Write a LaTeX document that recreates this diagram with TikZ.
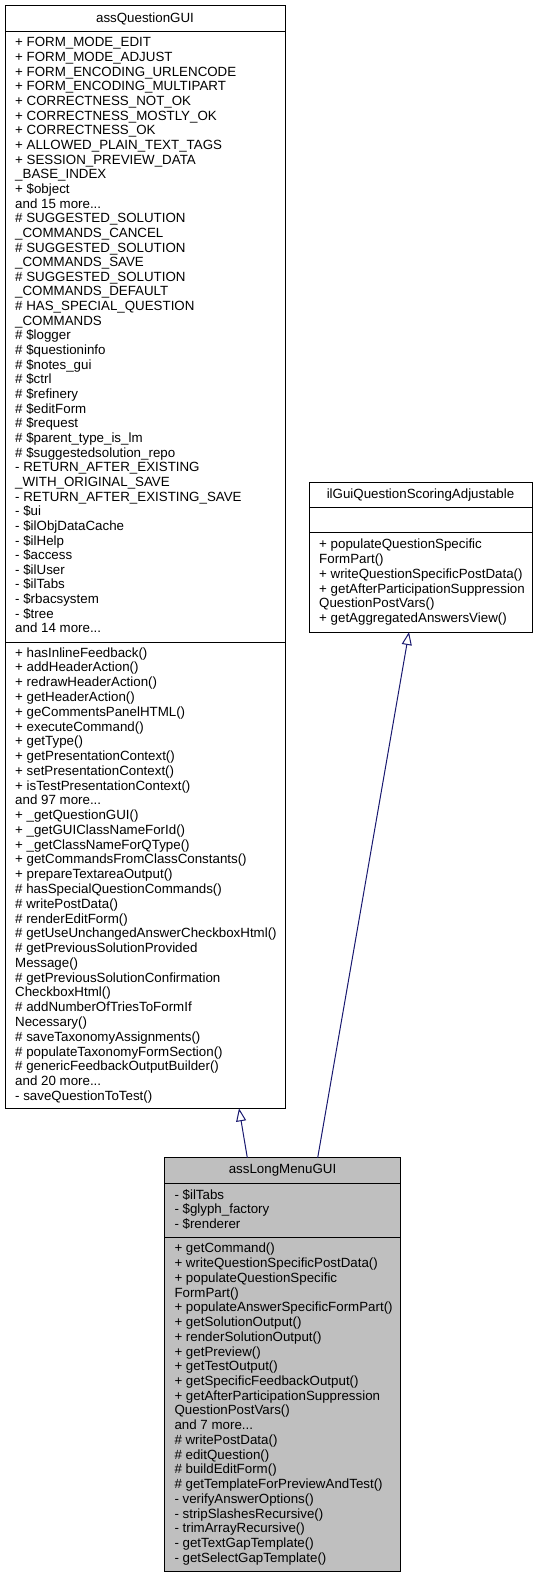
\documentclass[tikz,border=0pt]{standalone}
\usepackage{fontspec}
\usetikzlibrary{arrows.meta,calc}
\newfontfamily\classfontfam{Liberation Sans}
\newcommand\memberfont{\classfontfam\fontsize{13.33pt}{14.73pt}\selectfont}
\newcommand\memberfonta{\classfontfam\fontsize{13.33pt}{14.65pt}\selectfont}
\newcommand\memberfontm{\classfontfam\fontsize{13.33pt}{14.77pt}\selectfont}
\newcommand\fl{\rule{0pt}{11pt}}
\definecolor{edgeblue}{RGB}{25,25,112}
\definecolor{grey75}{RGB}{191,191,191}
\tikzset{
  classbox/.style={draw=black, line width=1pt, fill=white, inner sep=0pt, outer sep=0pt, anchor=north west},
  curbox/.style={classbox, fill=grey75},
  sepline/.style={draw=black, line width=1pt},
  member/.style={anchor=north west, inner sep=0pt, align=left, font=\memberfont, text=black},
  classtitle/.style={anchor=base, inner sep=0pt, font=\memberfont, text=black},
  inh/.style={draw=edgeblue, line width=1pt, -{Triangle[length=13pt,width=10pt,fill=white]}}
}
\begin{document}
\begin{tikzpicture}[x=1pt,y=-1pt]
\useasboundingbox (0,0) rectangle (539,1577);
% ---- assQuestionGUI
\node[classbox, minimum width=280pt, minimum height=1103pt] (q) at (5,5.3) {};
\draw[sepline] (5,31) -- (285,31);
\draw[sepline] (5,642) -- (285,642);
\node[classtitle] (qt) at (145,22) {assQuestionGUI};
\node[member, font=\memberfonta] (qa) at (15,35.7) {\fl+ FORM\_MODE\_EDIT\\
+ FORM\_MODE\_ADJUST\\
+ FORM\_ENCODING\_URLENCODE\\
+ FORM\_ENCODING\_MULTIPART\\
+ CORRECTNESS\_NOT\_OK\\
+ CORRECTNESS\_MOSTLY\_OK\\
+ CORRECTNESS\_OK\\
+ ALLOWED\_PLAIN\_TEXT\_TAGS\\
+ SESSION\_PREVIEW\_DATA\\
\_BASE\_INDEX\\
+ \$object\\
and 15 more...\\
\# SUGGESTED\_SOLUTION\\
\_COMMANDS\_CANCEL\\
\# SUGGESTED\_SOLUTION\\
\_COMMANDS\_SAVE\\
\# SUGGESTED\_SOLUTION\\
\_COMMANDS\_DEFAULT\\
\# HAS\_SPECIAL\_QUESTION\\
\_COMMANDS\\
\# \$logger\\
\# \$questioninfo\\
\# \$notes\_gui\\
\# \$ctrl\\
\# \$refinery\\
\# \$editForm\\
\# \$request\\
\# \$parent\_type\_is\_lm\\
\# \$suggestedsolution\_repo\\
- RETURN\_AFTER\_EXISTING\\
\_WITH\_ORIGINAL\_SAVE\\
- RETURN\_AFTER\_EXISTING\_SAVE\\
- \$ui\\
- \$ilObjDataCache\\
- \$ilHelp\\
- \$access\\
- \$ilUser\\
- \$ilTabs\\
- \$rbacsystem\\
- \$tree\\
and 14 more...};
\node[member, font=\memberfontm] (qm) at (15,646) {\fl+ hasInlineFeedback()\\
+ addHeaderAction()\\
+ redrawHeaderAction()\\
+ getHeaderAction()\\
+ geCommentsPanelHTML()\\
+ executeCommand()\\
+ getType()\\
+ getPresentationContext()\\
+ setPresentationContext()\\
+ isTestPresentationContext()\\
and 97 more...\\
+ \_getQuestionGUI()\\
+ \_getGUIClassNameForId()\\
+ \_getClassNameForQType()\\
+ getCommandsFromClassConstants()\\
+ prepareTextareaOutput()\\
\# hasSpecialQuestionCommands()\\
\# writePostData()\\
\# renderEditForm()\\
\# getUseUnchangedAnswerCheckboxHtml()\\
\# getPreviousSolutionProvided\\
Message()\\
\# getPreviousSolutionConfirmation\\
CheckboxHtml()\\
\# addNumberOfTriesToFormIf\\
Necessary()\\
\# saveTaxonomyAssignments()\\
\# populateTaxonomyFormSection()\\
\# genericFeedbackOutputBuilder()\\
and 20 more...\\
- saveQuestionToTest()};
% ---- ilGuiQuestionScoringAdjustable
\node[classbox, minimum width=223pt, minimum height=149.3pt] (s) at (309,482.7) {};
\draw[sepline] (309,507.7) -- (532,507.7);
\draw[sepline] (309,532.7) -- (532,532.7);
\node[classtitle] (st) at (420.5,498.7) {ilGuiQuestionScoringAdjustable};
\node[member] (sm) at (319,537.7) {\fl+ populateQuestionSpecific\\
FormPart()\\
+ writeQuestionSpecificPostData()\\
+ getAfterParticipationSuppression\\
QuestionPostVars()\\
+ getAggregatedAnswersView()};
% ---- assLongMenuGUI
\node[curbox, minimum width=236.4pt, minimum height=413.3pt] (l) at (164.3,1157.7) {};
\draw[sepline] (164.3,1183.3) -- (400.7,1183.3);
\draw[sepline] (164.3,1237) -- (400.7,1237);
\node[classtitle] (lt) at (282.5,1173.7) {assLongMenuGUI};
\node[member] (la) at (174.3,1188) {\fl- \$ilTabs\\
- \$glyph\_factory\\
- \$renderer};
\node[member] (lm) at (174.3,1241.7) {\fl+ getCommand()\\
+ writeQuestionSpecificPostData()\\
+ populateQuestionSpecific\\
FormPart()\\
+ populateAnswerSpecificFormPart()\\
+ getSolutionOutput()\\
+ renderSolutionOutput()\\
+ getPreview()\\
+ getTestOutput()\\
+ getSpecificFeedbackOutput()\\
+ getAfterParticipationSuppression\\
QuestionPostVars()\\
and 7 more...\\
\# writePostData()\\
\# editQuestion()\\
\# buildEditForm()\\
\# getTemplateForPreviewAndTest()\\
- verifyAnswerOptions()\\
- stripSlashesRecursive()\\
- trimArrayRecursive()\\
- getTextGapTemplate()\\
- getSelectGapTemplate()};
% ---- inheritance
\draw[inh] ($(l.north west)+(83,0)$) -- ($(q.south west)+(234,0)$);
\draw[inh] ($(l.north west)+(153.4,0)$) -- ($(s.south west)+(100,0)$);
\end{tikzpicture}
\end{document}
